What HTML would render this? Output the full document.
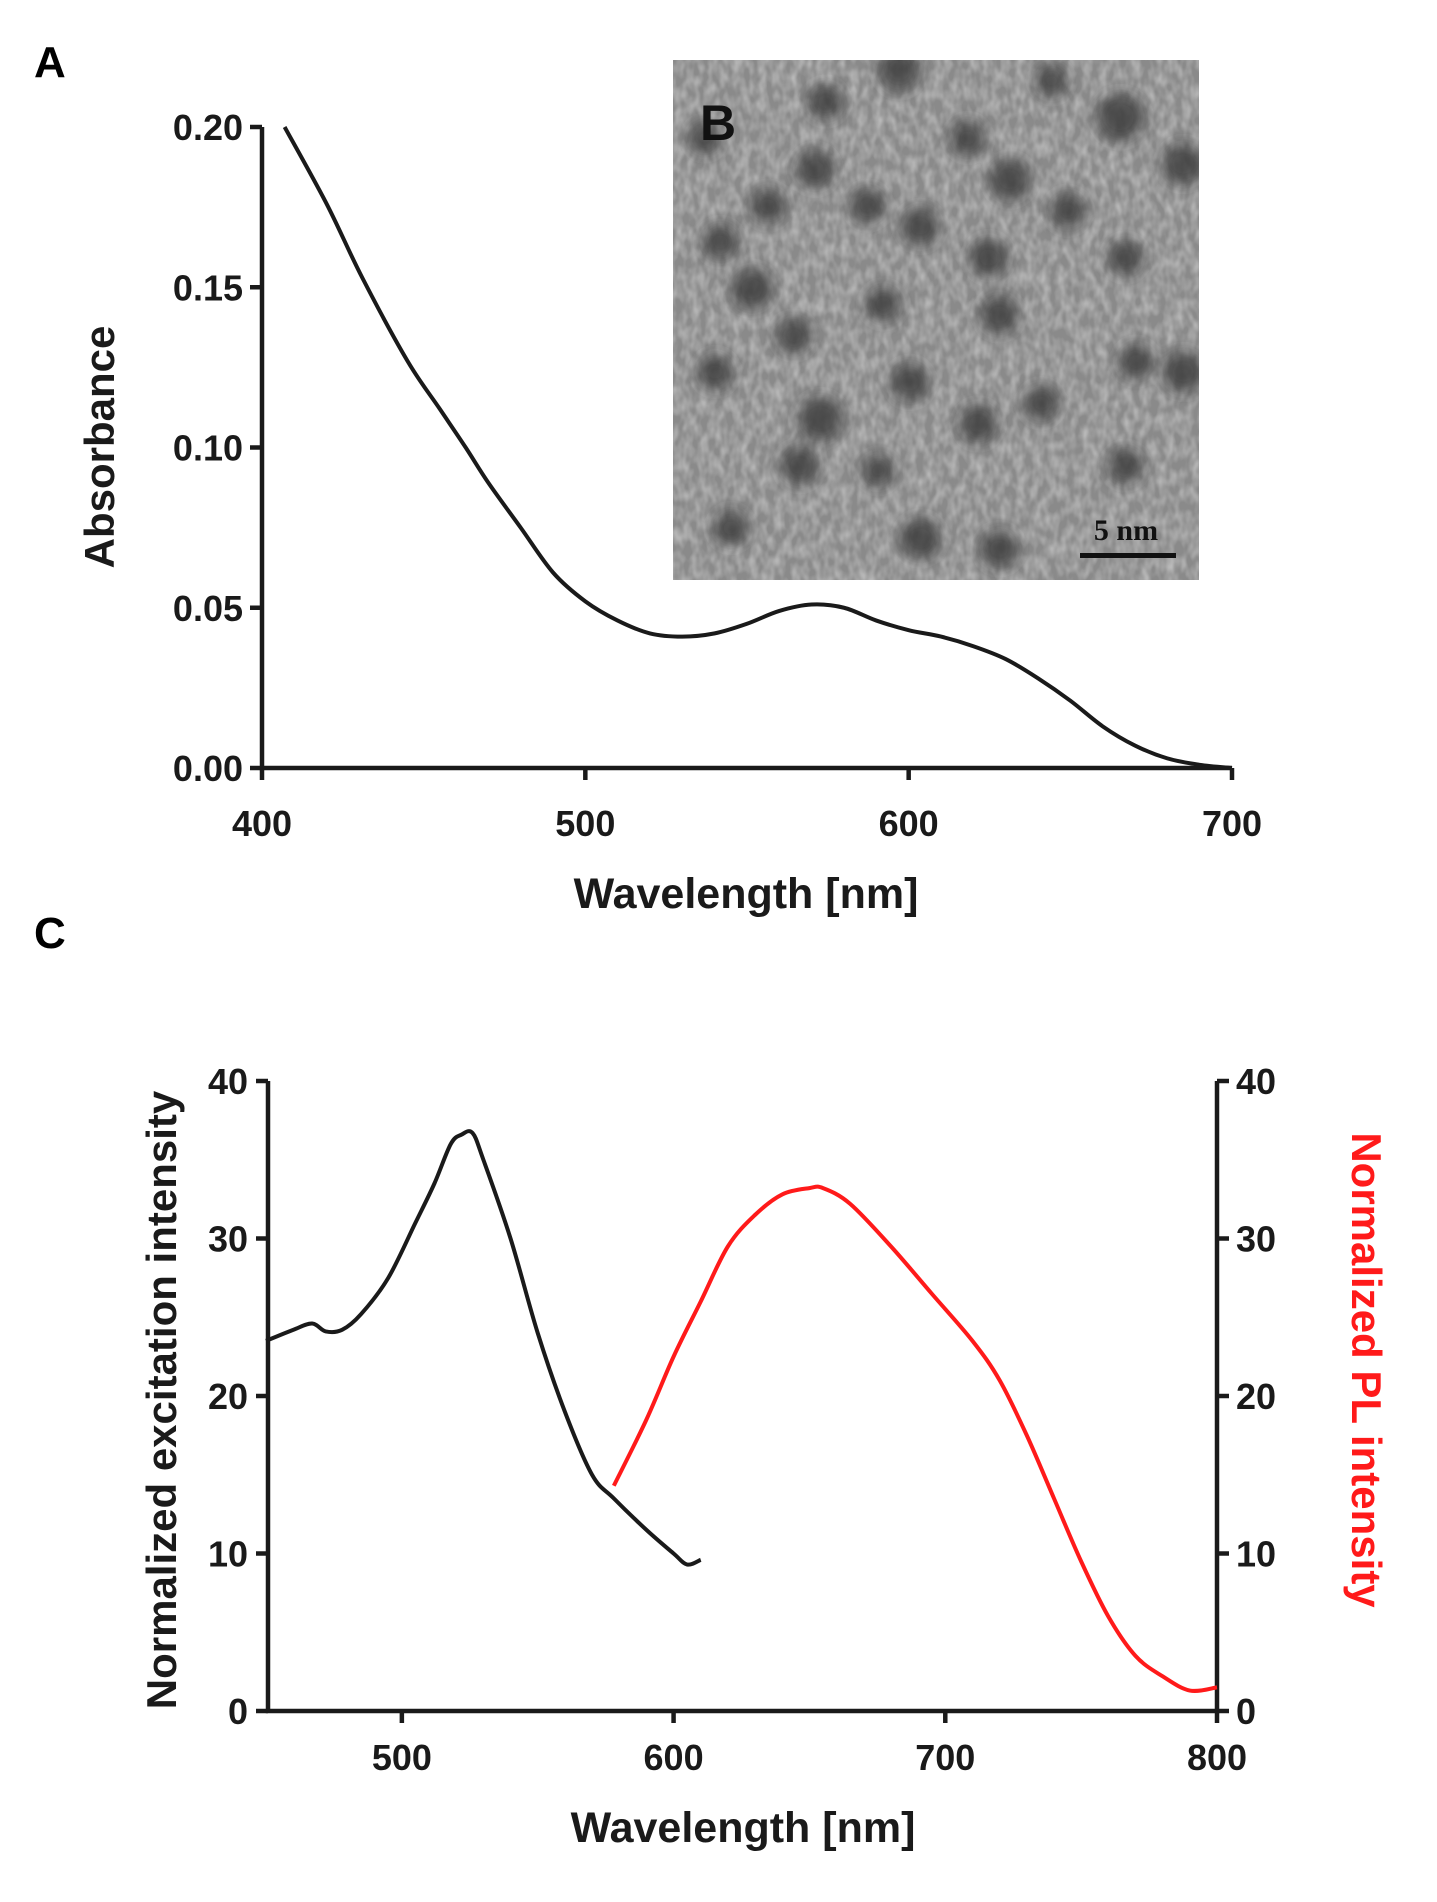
<!DOCTYPE html>
<html><head><meta charset="utf-8">
<style>
html,body{margin:0;padding:0;background:#fff;}
svg{display:block;}
text{font-family:"Liberation Sans",Arial,sans-serif;font-weight:bold;}
</style></head>
<body>
<svg id="fig" width="1437" height="1902" viewBox="0 0 1437 1902" xmlns="http://www.w3.org/2000/svg">
<defs>
<filter id="grain" x="0" y="0" width="100%" height="100%">
<feTurbulence type="fractalNoise" baseFrequency="0.12 0.07" numOctaves="2" seed="3"/>
<feColorMatrix type="matrix" values="0 0 0 0 0.62  0 0 0 0 0.62  0 0 0 0 0.62  0 0 0 1.6 -0.5"/>
</filter>
<filter id="blur"><feGaussianBlur stdDeviation="7"/></filter>
<clipPath id="temclip"><rect x="673" y="60" width="526" height="520"/></clipPath>
</defs>
<text x="34" y="77" font-size="44">A</text>
<text x="34" y="948" font-size="44">C</text>
<g id="tem" clip-path="url(#temclip)">
<rect x="673" y="60" width="526" height="520" fill="#8a8a8a"/>
<rect x="673" y="60" width="526" height="520" filter="url(#grain)" opacity="0.75"/>
<g id="blobs" filter="url(#blur)"></g>
</g>
<text x="700" y="140" font-size="50" fill="#111">B</text>
<text x="1126" y="540" font-size="30" fill="#111" text-anchor="middle" style="font-family:'Liberation Serif',serif">5 nm</text>
<rect x="1080" y="553" width="96" height="5" fill="#111"/>
<g id="topchart"></g>
<g id="botchart"></g>
</svg>
<script>
const NS="http://www.w3.org/2000/svg";
// Panel A data
const absWl=[407,420,431,445,455,463,470,480,490,500,510,520,530,540,550,560,570,580,590,600,610,620,630,640,650,660,670,680,690,700];
const absVal=[0.200,0.176,0.153,0.127,0.112,0.100,0.089,0.075,0.061,0.052,0.046,0.042,0.041,0.042,0.045,0.049,0.051,0.050,0.046,0.043,0.041,0.038,0.034,0.028,0.021,0.013,0.007,0.003,0.001,0.000];
const topXTicks=[400,500,600,700];
const topYTicks=[0.00,0.05,0.10,0.15,0.20];
const topYLabels=["0.00","0.05","0.10","0.15","0.20"];
// Panel C data
const excWl=[450,460,467,472,478,485,495,505,512,518,522,526,530,540,550,560,570,578,590,600,605,610];
const excVal=[23.5,24.2,24.6,24.1,24.2,25.2,27.5,31,33.5,36,36.6,36.7,35,30,24,19,15,13.5,11.5,10,9.3,9.6];
const plWl=[578,590,600,610,620,630,640,650,655,665,680,695,710,720,730,740,750,760,770,780,790,800];
const plVal=[14.3,18.5,22.5,26,29.5,31.5,32.8,33.2,33.2,32.2,29.5,26.5,23.5,21,17.5,13.5,9.5,6,3.5,2.2,1.3,1.5];
const botXTicks=[500,600,700,800];
const botYTicks=[0,10,20,30,40];
// TEM blob positions (fractions)
const blobs=[[0.43,0.02,14],[0.85,0.11,16],[0.27,0.21,13],[0.64,0.23,14],[0.29,0.08,12],[0.56,0.15,12],[0.18,0.28,12],[0.37,0.28,12],[0.47,0.32,13],[0.09,0.35,12],[0.75,0.29,12],[0.86,0.38,12],[0.6,0.38,13],[0.15,0.44,14],[0.4,0.47,12],[0.62,0.49,13],[0.23,0.53,12],[0.08,0.6,12],[0.45,0.62,13],[0.88,0.58,12],[0.97,0.6,14],[0.28,0.69,15],[0.58,0.7,13],[0.24,0.78,13],[0.39,0.79,11],[0.7,0.66,12],[0.86,0.78,12],[0.47,0.92,14],[0.62,0.94,13],[0.11,0.9,12],[0.97,0.2,14],[0.72,0.04,11],[0.06,0.15,11]];
const bg=document.getElementById('blobs');
for(const b of blobs){const c=document.createElementNS(NS,'circle');
c.setAttribute('cx',673+b[0]*526);c.setAttribute('cy',60+b[1]*520);c.setAttribute('r',b[2]*1.5);c.setAttribute('fill','#3a3a3a');c.setAttribute('opacity','0.8');


bg.appendChild(c);}
function el(p,t,a){const e=document.createElementNS(NS,t);for(const k in a)e.setAttribute(k,a[k]);p.appendChild(e);return e;}
function txt(p,x,y,s,size,anchor,fill,rot){const t=el(p,'text',{x:x,y:y,'font-size':size,'text-anchor':anchor||'middle',fill:fill||'#1a1a1a'});if(rot)t.setAttribute('transform',`rotate(${rot} ${x} ${y})`);t.textContent=s;return t;}
function smooth(pts){let d=`M${pts[0][0]},${pts[0][1]}`;
for(let i=0;i<pts.length-1;i++){const p0=pts[Math.max(0,i-1)],p1=pts[i],p2=pts[i+1],p3=pts[Math.min(pts.length-1,i+2)];
const c1=[p1[0]+(p2[0]-p0[0])/6,p1[1]+(p2[1]-p0[1])/6],c2=[p2[0]-(p3[0]-p1[0])/6,p2[1]-(p3[1]-p1[1])/6];
d+=`C${c1[0]},${c1[1]} ${c2[0]},${c2[1]} ${p2[0]},${p2[1]}`;}return d;}
// Top chart
const topG=document.getElementById('topchart');
const tx=v=>262+(v-400)*(1232-262)/300, ty=v=>768-v*(768-127)/0.2;
let a=el(topG,'path',{d:`M262 127V768H1232`,stroke:'#1a1a1a','stroke-width':4.5,fill:'none'});


topYTicks.forEach((v,i)=>{el(topG,'line',{x1:250,x2:262,y1:ty(v),y2:ty(v),stroke:'#1a1a1a','stroke-width':4.5});
const t=txt(topG,243,ty(v)+13,topYLabels[i],36,'end');

});
topXTicks.forEach(v=>{el(topG,'line',{x1:tx(v),x2:tx(v),y1:768,y2:780,stroke:'#1a1a1a','stroke-width':4.5});
const t=txt(topG,tx(v),836,String(v),36);

});
let t1=txt(topG,746,908,'Wavelength [nm]',43);


let t2=txt(topG,114,447,'Absorbance',42,'middle','#1a1a1a',-90);


let p1=el(topG,'path',{d:smooth(absWl.map((w,i)=>[tx(w),ty(absVal[i])])),fill:'none',stroke:'#1a1a1a','stroke-width':4,'stroke-linejoin':'round'});


// Bottom chart
const botG=document.getElementById('botchart');
const bx=v=>266+(v-450)*(1217-266)/350, by=v=>1711-v*(1711-1081)/40;
let a2=el(botG,'path',{d:`M268 1081V1711H1217V1081`,stroke:'#1a1a1a','stroke-width':4.5,fill:'none'});


botYTicks.forEach(v=>{el(botG,'line',{x1:256,x2:268,y1:by(v),y2:by(v),stroke:'#1a1a1a','stroke-width':4.5});
el(botG,'line',{x1:1217,x2:1229,y1:by(v),y2:by(v),stroke:'#1a1a1a','stroke-width':4.5});
const l=txt(botG,248,by(v)+13,String(v),36,'end');


const r=txt(botG,1236,by(v)+13,String(v),36,'start');

});
botXTicks.forEach(v=>{el(botG,'line',{x1:bx(v),x2:bx(v),y1:1711,y2:1723,stroke:'#1a1a1a','stroke-width':4.5});
const t=txt(botG,bx(v),1770,String(v),36);

});
let t3=txt(botG,743,1842,'Wavelength [nm]',43);


let t4=txt(botG,176,1400,'Normalized excitation intensity',42,'middle','#1a1a1a',-90);


let t5=txt(botG,1352,1370,'Normalized PL intensity',42,'middle','#ff1a1a',90);


let p2=el(botG,'path',{d:smooth(excWl.map((w,i)=>[bx(w),by(excVal[i])])),fill:'none',stroke:'#1a1a1a','stroke-width':4,'stroke-linejoin':'round'});


let p3=el(botG,'path',{d:smooth(plWl.map((w,i)=>[bx(w),by(plVal[i])])),fill:'none',stroke:'#ff1a1a','stroke-width':4,'stroke-linejoin':'round'});


</script>
</body></html>
